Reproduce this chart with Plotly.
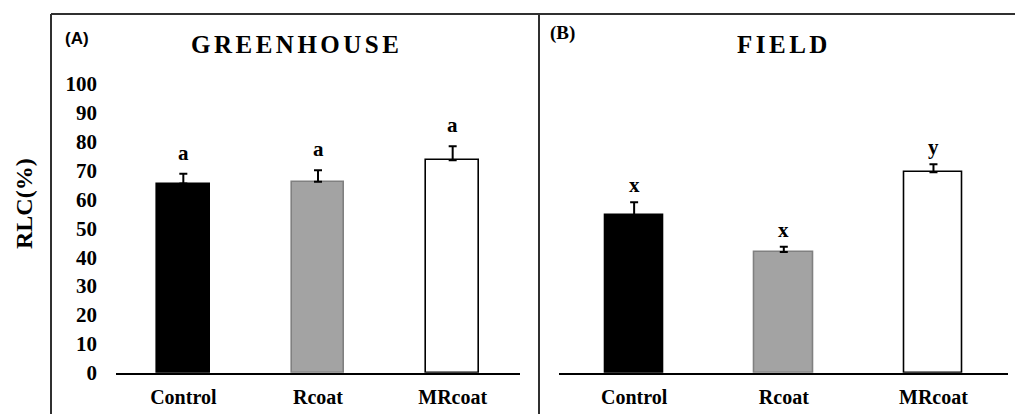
import plotly.graph_objects as go

# ---- data ----
categories = ["Control", "Rcoat", "MRcoat"]
greenhouse_mean = [65.5, 66.1, 73.6]
greenhouse_err = [3.4, 4.0, 4.8]
greenhouse_letters = ["a", "a", "a"]
field_mean = [54.5, 41.8, 69.4]
field_err = [4.5, 1.8, 2.8]
field_letters = ["x", "x", "y"]
y_ticks = [0, 10, 20, 30, 40, 50, 60, 70, 80, 90, 100]

bar_fill = ["#000000", "#a3a3a3", "#ffffff"]
bar_line = ["#000000", "#808080", "#000000"]

W, H = 1015, 414
SERIF = "Liberation Serif, Times New Roman, serif"
SANS = "Liberation Sans, Arial, sans-serif"

def px_x(p):
    return p / W

def px_y(p):
    return 1 - p / H

fig = go.Figure()

for mean, err, xa, ya in [
    (greenhouse_mean, greenhouse_err, "x", "y"),
    (field_mean, field_err, "x2", "y2"),
]:
    fig.add_trace(go.Bar(
        x=categories, y=mean, xaxis=xa, yaxis=ya, width=0.39,
        marker=dict(color=bar_fill, line=dict(color=bar_line, width=1.6)),
        error_y=dict(type="data", array=err, arrayminus=[0] * len(err),
                     symmetric=False, color="#000000", thickness=2, width=4),
        showlegend=False,
    ))

base_y = px_y(372.7)
top_y = px_y(84.0)

axis_common = dict(showgrid=False, zeroline=False, fixedrange=True, automargin=False)
fig.update_layout(
    width=W, height=H, autosize=False,
    margin=dict(l=0, r=0, t=0, b=0, pad=0, autoexpand=False),
    paper_bgcolor="white", plot_bgcolor="rgba(0,0,0,0)",
    showlegend=False,
    bargap=0,
    xaxis=dict(domain=[px_x(116), px_x(520)], anchor="y", range=[-0.5, 2.5],
               showline=True, linecolor="#000000", linewidth=2.2, ticks="",
               ticklabelstandoff=5,
               tickfont=dict(family=SERIF, size=20, color="#000000", weight="bold"),
               **axis_common),
    yaxis=dict(domain=[base_y, top_y], anchor="x", range=[0, 100],
               tickvals=y_ticks, ticktext=[str(v) for v in y_ticks],
               showline=False, ticks="", ticklabelstandoff=18,
               tickfont=dict(family=SERIF, size=21, color="#000000", weight="bold"),
               **axis_common),
    xaxis2=dict(domain=[px_x(559.3), px_x(1008.3)], anchor="y2", range=[-0.5, 2.5],
                showline=True, linecolor="#000000", linewidth=2.2, ticks="",
                ticklabelstandoff=5,
                tickfont=dict(family=SERIF, size=20, color="#000000", weight="bold"),
                **axis_common),
    yaxis2=dict(domain=[base_y, top_y], anchor="x2", range=[0, 100],
                showticklabels=False, showline=False, ticks="", **axis_common),
)

annotations = []
for mean, err, letters, xa, ya, shift in [
    (greenhouse_mean, greenhouse_err, greenhouse_letters, "x", "y", 7),
    (field_mean, field_err, field_letters, "x2", "y2", 3),
]:
    for c, m, e, l in zip(categories, mean, err, letters):
        annotations.append(dict(
            x=c, y=m + e, xref=xa, yref=ya, text=l, showarrow=False,
            yanchor="bottom", yshift=shift,
            font=dict(family=SERIF, size=21, color="#000000", weight="bold"),
        ))

annotations += [
    dict(x=px_x(77), y=px_y(39), xref="paper", yref="paper", text="(A)",
         showarrow=False, xanchor="center", yanchor="middle",
         font=dict(family=SANS, size=17, color="#000000", weight="bold")),
    dict(x=px_x(562.5), y=px_y(33), xref="paper", yref="paper", text="(B)",
         showarrow=False, xanchor="center", yanchor="middle",
         font=dict(family=SERIF, size=19, color="#000000", weight="bold")),
    dict(x=px_x(296), y=px_y(44), xref="paper", yref="paper",
         text='<span style="letter-spacing:3.5px">GREENHOUSE</span>',
         showarrow=False, xanchor="center", yanchor="middle",
         font=dict(family=SERIF, size=25, color="#000000", weight="bold")),
    dict(x=px_x(784), y=px_y(44), xref="paper", yref="paper",
         text='<span style="letter-spacing:3.5px">FIELD</span>',
         showarrow=False, xanchor="center", yanchor="middle",
         font=dict(family=SERIF, size=25, color="#000000", weight="bold")),
    dict(x=px_x(24), y=px_y(204), xref="paper", yref="paper", text="RLC(%)",
         showarrow=False, textangle=-90, xanchor="center", yanchor="middle",
         font=dict(family=SERIF, size=24, color="#000000", weight="bold")),
]
fig.update_layout(annotations=annotations)

frame = dict(color="#303030", width=2)
fig.update_layout(shapes=[
    dict(type="line", xref="paper", yref="paper", x0=px_x(51), x1=1,
         y0=px_y(14), y1=px_y(14), line=frame),
    dict(type="line", xref="paper", yref="paper", x0=px_x(51), x1=px_x(51),
         y0=px_y(14), y1=0, line=frame),
    dict(type="line", xref="paper", yref="paper", x0=px_x(539), x1=px_x(539),
         y0=px_y(14), y1=0, line=frame),
])

fig.write_html(
    "out.html",
    config={"displayModeBar": False, "responsive": False},
    post_script="document.body.style.margin='0';document.body.style.overflow='hidden';",
)
